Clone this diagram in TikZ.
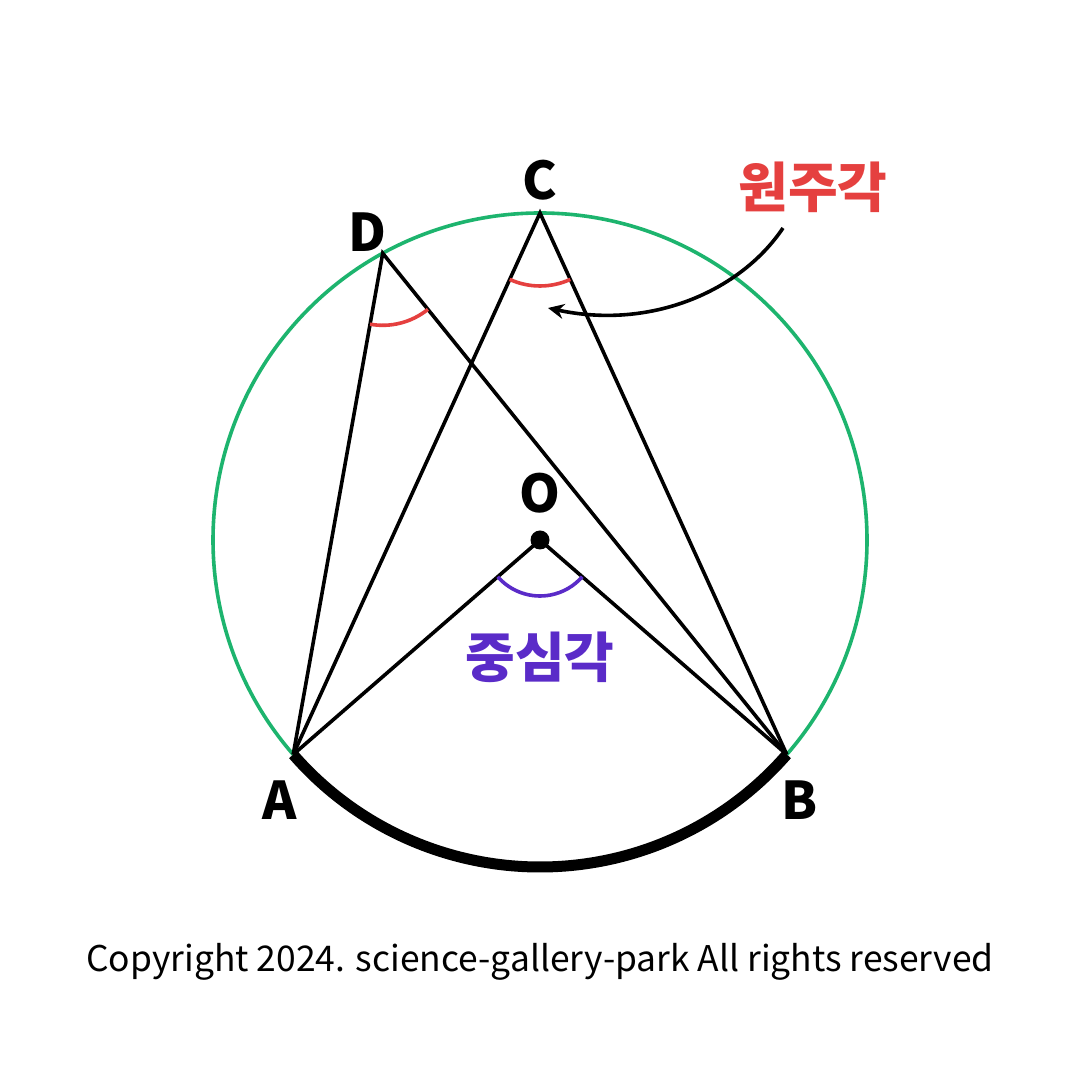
\documentclass[tikz,border=0pt]{standalone}
\usepackage{fontspec}
\setmainfont{Noto Sans CJK KR}
\usetikzlibrary{angles,arrows.meta,calc}
\definecolor{cgreen}{HTML}{1DB46E}
\definecolor{cred}{HTML}{E5403F}
\definecolor{cpurple}{HTML}{5A2BC8}
\tikzset{
  seg/.style={draw=black, line width=3.6pt},
  ptlabel/.style={font=\fontsize{52}{56}\selectfont\bfseries, text=black},
  anglab/.style={font=\fontsize{54}{60}\selectfont\bfseries},
}
\begin{document}
\begin{tikzpicture}[x=1pt,y=1pt]
\useasboundingbox[fill=white] (0,0) rectangle (1080,1080);
\coordinate (O) at (540,540);
\coordinate (A) at ($(O)+(221:327)$);
\coordinate (B) at ($(O)+(319:327)$);
\coordinate (C) at ($(O)+(90:327)$);
\coordinate (D) at ($(O)+(118.75:327)$);
% circle
\draw[cgreen, line width=3.6pt] (B) arc[start angle=319, end angle=581, radius=327];
\draw[black, line width=11pt] (A) arc[start angle=221, end angle=319, radius=327];
% segments
\draw[seg] (A) -- (D) -- (B);
\draw[seg] (A) -- (C) -- (B);
\draw[seg] (A) -- (O) -- (B);
% angle marks
\pic[draw=cred, line width=3.6pt, angle radius=73pt] {angle = A--C--B};
\pic[draw=cred, line width=3.6pt, angle radius=72pt] {angle = A--D--B};
\pic[draw=cpurple, line width=3.6pt, angle radius=56pt] {angle = A--O--B};
\fill[black] (O) circle[radius=9.5pt];
% labels
\node[ptlabel] (lC) at (540,900) {C};
\node[ptlabel] (lD) at (367,848) {D};
\node[ptlabel] (lO) at (540,587) {O};
\node[ptlabel] (lA) at (280,280) {A};
\node[ptlabel] (lB) at (800,280) {B};
\node[anglab, text=cred] (ins) at (813,893) {원주각};
\node[anglab, text=cpurple] (cen) at (540,423) {중심각};
% arrow
\coordinate (ars) at (783,852);
\coordinate (are) at (548,772);
\draw[black, line width=3.6pt, -{Stealth[length=16pt,width=15pt]}] (ars) .. controls (740,788) and (650,750) .. (are);
% copyright
\node[font=\fontsize{35.4}{40}\selectfont, text=black] (copy) at (540,118) {Copyright 2024. science-gallery-park All rights reserved};
\end{tikzpicture}
\end{document}
